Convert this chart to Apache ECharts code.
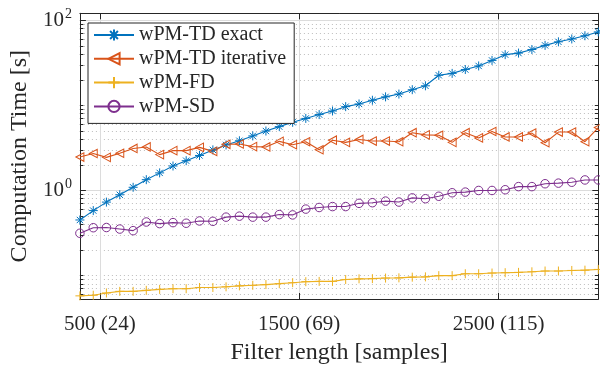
<!DOCTYPE html>
<html>
<head>
<meta charset="utf-8">
<script src="https://cdn.jsdelivr.net/npm/echarts@6/dist/echarts.min.js"></script>
<style>
  html, body { margin: 0; padding: 0; background: #fff; }
  #chart { width: 600px; height: 370px; }
</style>
</head>
<body>
<div id="chart"></div>
<script>
// filter length in samples (x)
const filterLen = [400, 467, 533, 600, 667, 733, 800, 867, 933, 1000,
  1067, 1133, 1200, 1267, 1333, 1400, 1467, 1533, 1600, 1667,
  1733, 1800, 1867, 1933, 2000, 2067, 2133, 2200, 2267, 2333,
  2400, 2467, 2533, 2600, 2667, 2733, 2800, 2867, 2933, 3000]

// computation time [s]
const tdExact = [0.45, 0.58, 0.73, 0.89, 1.09, 1.34, 1.61, 1.94, 2.24, 2.58,
  3.0, 3.43, 3.84, 4.38, 5.0, 5.63, 6.33, 7.03, 7.8, 8.6,
  9.67, 10.4, 11.5, 12.6, 13.6, 15.3, 17.0, 22.6, 23.8, 26.4,
  29.1, 33.8, 39.5, 41.2, 45.4, 50.8, 55.9, 60.4, 65.9, 73.1]
const tdIterative = [2.47, 2.72, 2.45, 2.74, 3.12, 3.25, 2.64, 2.94, 2.94, 3.21,
  2.88, 3.49, 3.52, 3.28, 3.25, 3.78, 3.45, 3.74, 3.01, 3.9,
  3.68, 3.98, 3.81, 3.81, 3.74, 4.78, 4.5, 4.46, 3.68, 4.78,
  4.15, 4.94, 4.26, 4.26, 4.73, 3.64, 4.86, 4.86, 3.74, 5.49]
const fd = [0.0577, 0.0587, 0.0624, 0.0652, 0.0652, 0.067, 0.0687, 0.07, 0.07, 0.0724,
  0.0724, 0.0737, 0.0757, 0.0768, 0.0783, 0.0803, 0.0824, 0.0847, 0.0853, 0.0853,
  0.0899, 0.0915, 0.092, 0.0934, 0.094, 0.0957, 0.0965, 0.0997, 0.0997, 0.105,
  0.105, 0.107, 0.108, 0.109, 0.1107, 0.113, 0.113, 0.1148, 0.1157, 0.118]
const sd = [0.314, 0.365, 0.367, 0.352, 0.337, 0.426, 0.408, 0.419, 0.412, 0.438,
  0.434, 0.486, 0.499, 0.486, 0.486, 0.521, 0.516, 0.604, 0.631, 0.647,
  0.647, 0.706, 0.718, 0.75, 0.731, 0.818, 0.8, 0.855, 0.94, 0.957,
  1.0, 1.0, 1.02, 1.11, 1.11, 1.2, 1.22, 1.25, 1.33, 1.33]

const xTickValues = [500, 1500, 2500]
const xTickLabels = ['500 (24)', '1500 (69)', '2500 (115)']
const yTickValues = [1, 100]
const yTickExp = ['0', '2']
const yMinorValues = [0.06, 0.07, 0.08, 0.09, 0.1, 0.2, 0.3, 0.4, 0.5, 0.6, 0.7, 0.8, 0.9,
  2, 3, 4, 5, 6, 7, 8, 9, 10, 20, 30, 40, 50, 60, 70, 80, 90]

const FONT = '"Liberation Serif", "Times New Roman", serif'
const INK = '#262626'
const asterisk = 'path://M5 0L5 10M0 5L10 5M1.5 1.5L8.5 8.5M1.5 8.5L8.5 1.5'
const plus = 'path://M5 0L5 10M0 5L10 5'

const pairs = (ys) => filterLen.map((x, i) => [x, ys[i]])

const chart = echarts.init(document.getElementById('chart'), null, { renderer: 'canvas' })

const yBase = { type: 'log', logBase: 10, min: 0.053, max: 121, gridIndex: 0 }

const option = {
  animation: false,
  backgroundColor: '#fff',
  textStyle: { fontFamily: FONT, color: INK },
  grid: { left: 77.5, right: 1.7, top: 13.3, bottom: 60 },
  legend: {
    orient: 'vertical',
    left: 88,
    top: 23,
    itemWidth: 40,
    itemHeight: 14,
    itemGap: 3.8,
    padding: [2, 8, 7, 5],
    backgroundColor: '#fff',
    borderColor: INK,
    borderWidth: 1,
    textStyle: { fontFamily: FONT, fontSize: 20, color: INK },
    data: ['wPM-TD exact', 'wPM-TD iterative', 'wPM-FD', 'wPM-SD'],
  },
  xAxis: [
    {
      type: 'value', min: 400, max: 3000, position: 'bottom',
      name: 'Filter length [samples]', nameLocation: 'middle', nameGap: 42,
      nameTextStyle: { fontFamily: FONT, fontSize: 24, color: INK },
      axisLine: { lineStyle: { color: INK, width: 1 } },
      axisTick: { inside: true, length: 6, customValues: xTickValues, lineStyle: { color: INK } },
      axisLabel: {
        customValues: xTickValues, margin: 15, fontSize: 21, color: INK, fontFamily: FONT,
        formatter: (v) => xTickLabels[xTickValues.indexOf(v)] ?? '',
      },
      splitLine: { show: true, lineStyle: { color: '#dcdcdc', width: 1 } },
    },
    {
      type: 'value', min: 400, max: 3000, position: 'top',
      axisLine: { lineStyle: { color: INK, width: 1 } },
      axisTick: { inside: true, length: 6, customValues: xTickValues, lineStyle: { color: INK } },
      axisLabel: { show: false },
      splitLine: { show: false },
    },
  ],
  yAxis: [
    {
      ...yBase, position: 'left',
      name: 'Computation Time [s]', nameLocation: 'middle', nameGap: 45,
      nameTextStyle: { fontFamily: FONT, fontSize: 24, color: INK },
      axisLine: { show: true, lineStyle: { color: INK, width: 1 } },
      axisTick: { inside: true, length: 6, customValues: yTickValues, lineStyle: { color: INK } },
      axisLabel: {
        customValues: yTickValues, margin: 8,
        formatter: (v) => '{b|10}{e|' + (yTickExp[yTickValues.indexOf(v)] ?? '') + '}',
        rich: {
          b: { fontFamily: FONT, fontSize: 21, color: INK },
          e: { fontFamily: FONT, fontSize: 14, color: INK, padding: [0, 0, 12, 1] },
        },
      },
      splitLine: { show: true, lineStyle: { color: '#dcdcdc', width: 1 } },
    },
    {
      ...yBase, position: 'left',
      axisLine: { show: false },
      axisTick: { inside: true, length: 3.5, customValues: yMinorValues, lineStyle: { color: INK } },
      axisLabel: { show: false },
      splitLine: { show: true, lineStyle: { color: '#bdbdbd', width: 1, type: [1, 3] } },
    },
    {
      ...yBase, position: 'right',
      axisLine: { show: true, lineStyle: { color: INK, width: 1 } },
      axisTick: { inside: true, length: 6, customValues: yTickValues, lineStyle: { color: INK } },
      axisLabel: { show: false },
      splitLine: { show: false },
    },
    {
      ...yBase, position: 'right',
      axisLine: { show: false },
      axisTick: { inside: true, length: 3.5, customValues: yMinorValues, lineStyle: { color: INK } },
      axisLabel: { show: false },
      splitLine: { show: false },
    },
  ],
  series: [
    {
      name: 'wPM-TD exact', type: 'line', data: pairs(tdExact),
      symbol: asterisk, symbolSize: 9,
      itemStyle: { color: '#0072BD', borderColor: '#0072BD', borderWidth: 1 },
      lineStyle: { color: '#0072BD', width: 1.1 },
    },
    {
      name: 'wPM-TD iterative', type: 'line', data: pairs(tdIterative),
      symbol: 'triangle', symbolSize: [8.5, 8], symbolRotate: 90,
      itemStyle: { color: 'rgba(255,255,255,0)', borderColor: '#D95319', borderWidth: 1 },
      lineStyle: { color: '#D95319', width: 1.1 },
    },
    {
      name: 'wPM-FD', type: 'line', data: pairs(fd),
      symbol: plus, symbolSize: 9,
      itemStyle: { color: '#EDB120', borderColor: '#EDB120', borderWidth: 1 },
      lineStyle: { color: '#EDB120', width: 1.1 },
    },
    {
      name: 'wPM-SD', type: 'line', data: pairs(sd),
      symbol: 'circle', symbolSize: 8.5,
      itemStyle: { color: 'rgba(255,255,255,0)', borderColor: '#7E2F8E', borderWidth: 1 },
      lineStyle: { color: '#7E2F8E', width: 1.1 },
    },
  ],
}

chart.setOption(option)
</script>
</body>
</html>
